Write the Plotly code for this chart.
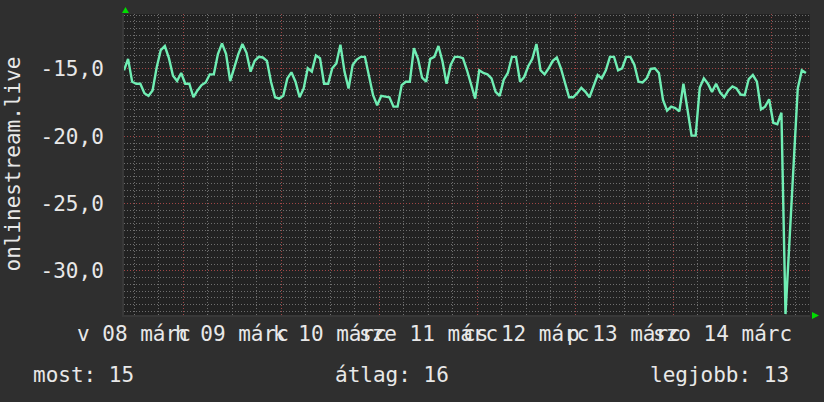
import datetime as dt
import plotly.graph_objects as go

# ---------------- data ----------------
start_time = dt.datetime(2026, 3, 8, 9, 30)
step_hours = 1
values = [
    -15.1, -14.25, -15.95, -16.1, -16.1, -16.8, -17.0, -16.6, -14.9, -13.6,
    -13.3, -14.2, -15.5, -15.9, -15.3, -16.1, -16.1, -17.1, -16.6, -16.2,
    -16.0, -15.4, -15.4, -13.9, -13.1, -13.9, -15.9, -14.8, -13.9, -13.15,
    -13.8, -15.2, -14.4, -14.1, -14.15, -14.4, -15.95, -17.1, -17.2, -17.0,
    -15.7, -15.25, -15.95, -17.1, -16.45, -14.95, -15.2, -14.0, -14.2, -16.1,
    -16.1, -14.95, -14.6, -13.2, -15.2, -16.45, -14.7, -14.3, -14.1, -14.1,
    -15.45, -16.95, -17.7, -17.0, -17.05, -17.1, -17.8, -17.8, -16.2, -15.95,
    -15.95, -13.45, -14.25, -15.65, -15.95, -14.25, -14.1, -13.3, -14.45, -16.1,
    -14.7, -14.1, -14.1, -14.2, -15.1, -16.2, -17.2, -15.1, -15.3, -15.4,
    -15.7, -16.7, -17.0, -15.8, -15.3, -14.1, -14.1, -15.95, -15.6, -14.8,
    -14.25, -13.15, -15.1, -15.4, -14.95, -14.4, -14.15, -14.95, -15.95, -17.1,
    -17.1, -16.8, -16.4, -16.7, -17.1, -16.3, -15.45, -15.7, -15.1, -14.1,
    -14.1, -15.1, -14.95, -14.1, -14.1, -14.7, -15.95, -16.0, -15.7, -15.0,
    -14.95, -15.3, -17.3, -18.1, -17.8, -17.9, -18.15, -16.1, -17.95, -19.95,
    -19.95, -16.4, -15.7, -16.1, -16.7, -16.1, -16.75, -17.1, -16.6, -16.3,
    -16.45, -16.9, -16.95, -15.75, -15.45, -15.95, -18.0, -17.8, -17.25, -19.0,
    -19.1, -18.25, -33.2, -27.5, -22.2, -16.45, -15.1, -15.3,
]
times = [start_time + dt.timedelta(hours=step_hours * i) for i in range(len(values))]

y_tick_values = [-30, -25, -20, -15]
y_tick_labels = ["-30,0", "-25,0", "-20,0", "-15,0"]
x_label_days = [dt.datetime(2026, 3, d, 12, 0) for d in range(8, 15)]
x_label_texts = ["v 08 márc", "h 09 márc", "k 10 márc", "sze 11 márc",
                 "cs 12 márc", "p 13 márc", "szo 14 márc"]
x_midnights = [dt.datetime(2026, 3, d) for d in range(9, 16)]
legend_texts = ["most: 15", "átlag: 16", "legjobb: 13"]
y_title = "onlinestream.live"

# ---------------- layout ----------------
W, H = 824, 402
L, R, T, B = 124, 810, 14, 315
x_range = [start_time, start_time + dt.timedelta(days=7)]
y_range = [-33.27, -10.92]

FONT = "DejaVu Sans Mono"
TXT = "#e8e8e8"
OUTER = "#2f2f2f"
PLOT_BG = "#222222"
LINE = "#70eeb4"
MINOR = "#6e6e6e"
MAJOR = "#a04646"
DOTS = "1px,2px"


def px(xp):
    return (xp - L) / (R - L)


def py(yp):
    return (B - yp) / (B - T)


fig = go.Figure()
fig.add_trace(go.Scatter(x=times, y=values, mode="lines",
                         line=dict(color=LINE, width=2.4), hoverinfo="skip"))

fig.update_layout(
    width=W, height=H,
    margin=dict(l=L, r=W - R, t=T, b=H - B, pad=0),
    paper_bgcolor=OUTER, plot_bgcolor=PLOT_BG,
    showlegend=False,
    font=dict(family=FONT, size=21, color=TXT),
)

fig.update_xaxes(
    type="date", range=x_range, showticklabels=False, ticks="",
    tickmode="array", tickvals=x_midnights,
    showgrid=True, gridcolor=MAJOR, griddash=DOTS, gridwidth=1,
    minor=dict(tickmode="linear", tick0=dt.datetime(2026, 3, 8), dtick=6 * 3600 * 1000,
               showgrid=True, gridcolor=MINOR, griddash=DOTS, gridwidth=1, ticks=""),
    showline=True, linecolor="#383838", linewidth=2, zeroline=False, automargin=False,
)
fig.update_yaxes(
    range=y_range, tickmode="array", tickvals=y_tick_values, ticktext=y_tick_labels,
    ticks="", ticklabelstandoff=14,
    tickfont=dict(family=FONT, size=21, color=TXT),
    showgrid=True, gridcolor=MAJOR, griddash=DOTS, gridwidth=1,
    minor=dict(tickmode="linear", tick0=-15, dtick=0.5,
               showgrid=True, gridcolor=MINOR, griddash=DOTS, gridwidth=1, ticks=""),
    showline=True, linecolor="#383838", linewidth=2, zeroline=False, automargin=False,
)

annotations = []
for xv, txt in zip(x_label_days, x_label_texts):
    annotations.append(dict(x=xv, xref="x", y=py(334), yref="paper", text=txt,
                            showarrow=False, xanchor="center", yanchor="middle",
                            font=dict(family=FONT, size=21, color=TXT)))
annotations.append(dict(x=px(31), xref="paper", y=py(375), yref="paper", text=legend_texts[0],
                        showarrow=False, xanchor="left", yanchor="middle"))
annotations.append(dict(x=px(333), xref="paper", y=py(375), yref="paper", text=legend_texts[1],
                        showarrow=False, xanchor="left", yanchor="middle"))
annotations.append(dict(x=px(791), xref="paper", y=py(375), yref="paper", text=legend_texts[2],
                        showarrow=False, xanchor="right", yanchor="middle"))
annotations.append(dict(x=px(12), xref="paper", y=0.5, yref="paper", text=y_title,
                        showarrow=False, textangle=-90, xanchor="center", yanchor="middle"))
fig.update_layout(annotations=annotations)

# green axis arrows
arrow_top = f"M {px(125.5)},{py(7)} L {px(122)},{py(13)} L {px(129)},{py(13)} Z"
arrow_right = f"M {px(819)},{py(315.5)} L {px(812)},{py(312)} L {px(812)},{py(319)} Z"
for p in (arrow_top, arrow_right):
    fig.add_shape(type="path", path=p, xref="paper", yref="paper",
                  fillcolor="#00dd00", line=dict(width=0))

fig.write_html(
    "out.html",
    config={"displayModeBar": False},
    post_script="document.body.style.margin='0';document.body.style.overflow='hidden';"
                "document.body.style.background='" + OUTER + "';",
)
